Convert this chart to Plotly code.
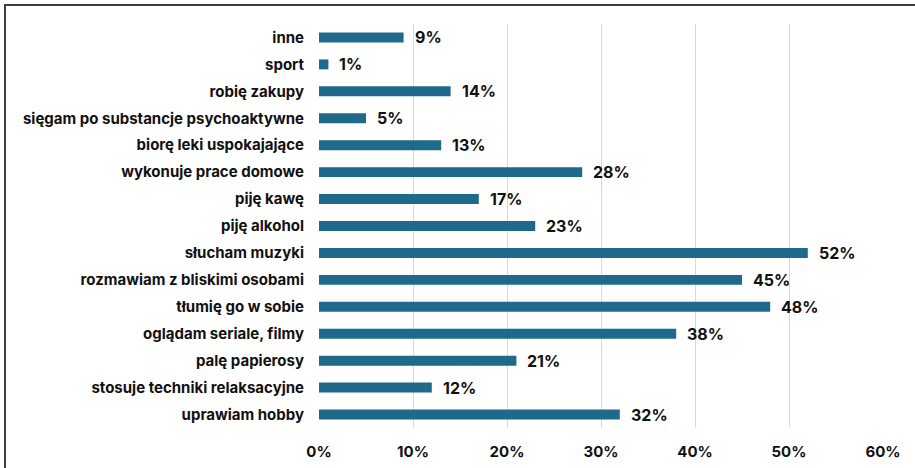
import plotly.graph_objects as go

categories = ["inne", "sport", "robię zakupy", "sięgam po substancje psychoaktywne",
              "biorę leki uspokajające", "wykonuje prace domowe", "piję kawę", "piję alkohol",
              "słucham muzyki", "rozmawiam z bliskimi osobami", "tłumię go w sobie",
              "oglądam seriale, filmy", "palę papierosy", "stosuje techniki relaksacyjne",
              "uprawiam hobby"]
values = [9, 1, 14, 5, 13, 28, 17, 23, 52, 45, 48, 38, 21, 12, 32]

W, H = 915, 468
L, R, T, B = 319, 32, 24, 40
pw, ph = W - L - R, H - T - B

BAR = "#1F6A8A"
FONT = "Inter, Liberation Sans, Arial, sans-serif"

fig = go.Figure(go.Bar(
    x=values, y=categories, orientation="h",
    marker=dict(color=BAR, line=dict(width=0)),
    width=0.37,
))

annotations = [dict(x=v, y=c, xref="x", yref="y", text=f"{v}%", showarrow=False,
                    xanchor="left", yanchor="middle", xshift=9,
                    font=dict(family=FONT, size=16, color="#111111", weight="bold"))
               for c, v in zip(categories, values)]

def px_x(p):
    return (p - L) / pw

def px_y(p):
    return 1 - (p - T) / ph

fig.update_layout(
    width=W, height=H,
    margin=dict(l=L, r=R, t=T, b=B),
    paper_bgcolor="white", plot_bgcolor="white",
    showlegend=False,
    annotations=annotations,
    xaxis=dict(range=[0, 60], dtick=10, ticksuffix="%", showgrid=True,
               gridcolor="#D9D9D9", gridwidth=1, zeroline=False, showline=False,
               tickfont=dict(family=FONT, size=15, color="#111111", weight="bold"),
               ticks="", ticklabelstandoff=13, fixedrange=True, automargin=False),
    yaxis=dict(categoryorder="array", categoryarray=categories[::-1],
               showgrid=False, zeroline=False, showline=False, ticks="",
               ticklabelstandoff=14, automargin=False,
               tickfont=dict(family=FONT, size=15, color="#111111", weight="bold")),
    shapes=[
        dict(type="line", xref="paper", yref="paper",
             x0=px_x(5), x1=px_x(5), y0=px_y(468), y1=px_y(4),
             line=dict(color="#404040", width=2), layer="above"),
        dict(type="line", xref="paper", yref="paper",
             x0=px_x(4), x1=px_x(915), y0=px_y(5), y1=px_y(5),
             line=dict(color="#404040", width=2), layer="above"),
    ],
)
fig.update_traces(cliponaxis=False)

fig.write_html("out.html", config=dict(displayModeBar=False))
